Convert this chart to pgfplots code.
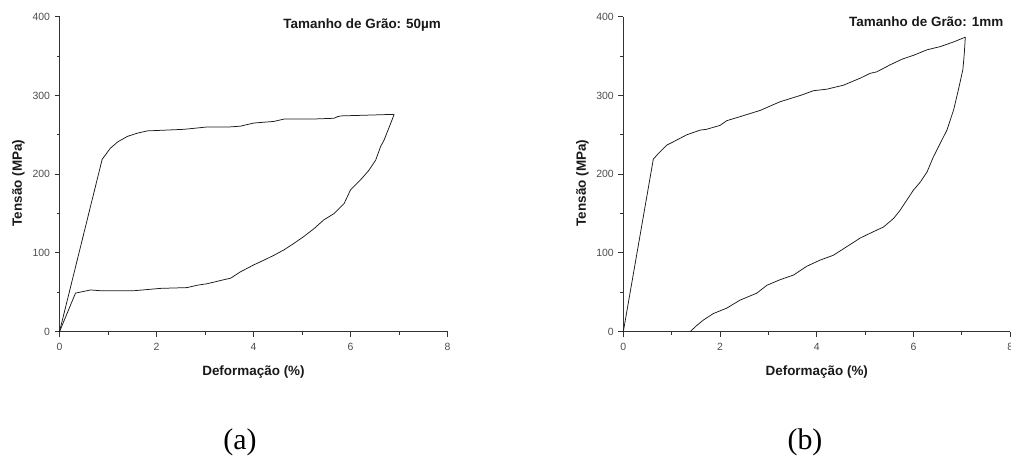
\documentclass[border=0pt]{standalone}
\usepackage{fontspec}
\setmainfont{Liberation Sans}
\newfontfamily\capfont{Liberation Serif}
\usepackage{pgfplots}
\pgfplotsset{compat=1.18}
\begin{document}
\begin{tikzpicture}
\useasboundingbox (0,0) rectangle (1011bp,460bp);
\pgfplotsset{
 hyst/.style={
  scale only axis, height=315bp,
  xmin=0,xmax=8,ymin=0,ymax=400,
  axis lines=left, axis line style={-, line width=0.9bp, black!80},
  xtick={0,2,4,6,8}, ytick={0,100,200,300,400},
  minor x tick num=1, minor y tick num=1,
  tick align=outside, major tick length=5bp, minor tick length=3bp,
  every tick/.style={line width=0.9bp, black!80},
  /pgf/number format/assume math mode=true,
  tick label style={font=\fontsize{10.5}{11}\selectfont, text=black!70},
  xticklabel style={yshift=-3bp},
  yticklabel style={xshift=-1bp},
  xlabel={Deformação (\%)},
  ylabel={Tensão (MPa)},
  label style={font=\fontsize{13.5}{14}\selectfont\bfseries, text=black!90},
  xlabel style={at={(axis description cs:0.5,-0.128)},anchor=center},
  ylabel style={at={(axis description cs:-0.106,0.472)},anchor=center},
  clip=false,
 },
 curve/.style={black!90, line width=0.75bp, no marks},
}
\begin{axis}[hyst, width=388bp, at={(59.5bp,128.3bp)}, anchor=south west]
\addplot[curve] coordinates {
(0,0) (0.88,219) (1.05,233) (1.20,241) (1.40,248) (1.60,252) (1.81,255) (2.20,256) (2.57,257) (3.05,260) (3.50,260) (3.73,261) (4.01,265) (4.42,267) (4.63,270) (5.20,270) (5.66,271) (5.73,273) (5.80,274) (6.35,275) (6.90,276)
};
\addplot[curve] coordinates {
(6.90,276) (6.80,260) (6.69,243) (6.62,235) (6.52,218) (6.38,205) (6.21,193) (6.00,180) (5.87,163) (5.66,150) (5.45,142) (5.25,131) (5.04,121) (4.83,112) (4.63,104) (4.42,97) (4.22,91) (4.01,85) (3.73,76) (3.53,68) (3.32,65) (3.05,61) (2.84,59) (2.63,56) (2.08,55) (1.53,52) (0.85,52) (0.64,53) (0.33,49) (0,0)
};
\node[anchor=east, font=\fontsize{13.5}{14}\selectfont\bfseries, text=black!90] at (rel axis cs:0.992,0.974) {Tamanho de Grão: 50µm};
\end{axis}
\begin{axis}[hyst, width=387bp, at={(623.3bp,128.3bp)}, anchor=south west]
\addplot[curve] coordinates {
(0,0) (0.62,219) (0.72,226) (0.90,237) (1.03,241) (1.31,250) (1.59,256) (1.72,257) (2.00,262) (2.14,268) (2.41,273) (2.83,281) (3.24,292) (3.66,300) (3.93,306) (4.21,308) (4.55,313) (4.90,322) (5.10,328) (5.24,330) (5.52,339) (5.76,346) (6.00,351) (6.28,358) (6.55,362) (6.83,368) (7.07,374)
};
\addplot[curve] coordinates {
(7.07,374) (7.05,354) (7.02,333) (6.93,308) (6.83,282) (6.69,256) (6.55,239) (6.41,222) (6.28,203) (6.14,190) (6.00,180) (5.86,167) (5.72,154) (5.59,144) (5.38,133) (5.17,127) (4.90,119) (4.62,108) (4.34,97) (4.07,91) (3.79,83) (3.52,72) (3.24,66) (2.97,59) (2.76,49) (2.41,40) (2.14,30) (1.86,23) (1.66,15) (1.52,8) (1.38,0)
};
\node[anchor=east, font=\fontsize{13.5}{14}\selectfont\bfseries, text=black!90] at (rel axis cs:0.991,0.984) {Tamanho de Grão: 1mm};
\end{axis}
\node[font=\capfont\fontsize{30}{30}\selectfont] at (240bp,17.5bp) {(a)};
\node[font=\capfont\fontsize{30}{30}\selectfont] at (805bp,17.5bp) {(b)};
\end{tikzpicture}
\end{document}
